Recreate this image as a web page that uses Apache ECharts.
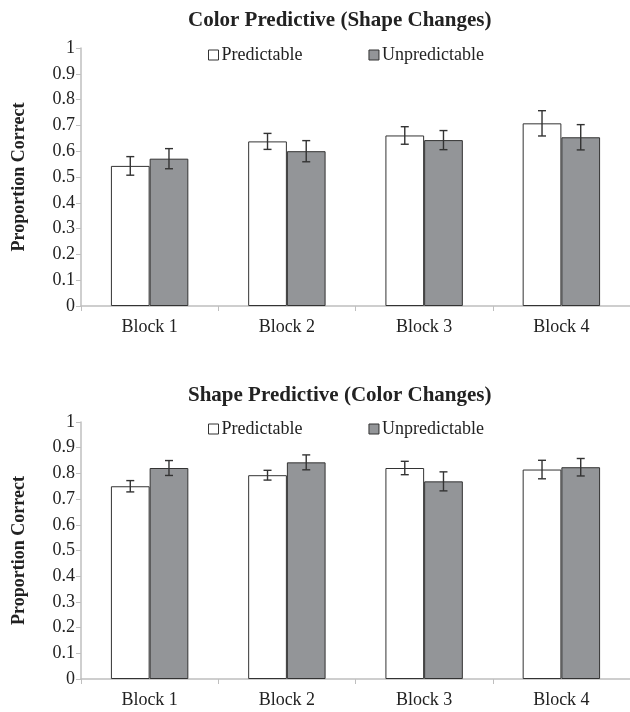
<!DOCTYPE html>
<html>
<head>
<meta charset="utf-8">
<script src="https://cdn.jsdelivr.net/npm/echarts@6/dist/echarts.min.js"></script>
<style>
  html, body { margin: 0; padding: 0; background: #fff; }
  #main { width: 630px; height: 712px; }
</style>
</head>
<body>
<div id="main"></div>
<script>
// categories
const blocks = ['Block 1', 'Block 2', 'Block 3', 'Block 4'];

// Color Predictive (Shape Changes)
const colorPred = [0.543, 0.638, 0.661, 0.708];
const colorPredErr = [0.036, 0.031, 0.034, 0.049];
const colorUnpred = [0.571, 0.600, 0.643, 0.654];
const colorUnpredErr = [0.039, 0.041, 0.037, 0.049];

// Shape Predictive (Color Changes)
const shapePred = [0.750, 0.793, 0.821, 0.815];
const shapePredErr = [0.022, 0.019, 0.026, 0.036];
const shapeUnpred = [0.821, 0.843, 0.769, 0.824];
const shapeUnpredErr = [0.029, 0.029, 0.037, 0.034];

const titles = ['Color Predictive (Shape Changes)', 'Shape Predictive (Color Changes)'];

const FONT = '"Liberation Serif", "DejaVu Serif", serif';
const AXIS_GREY = '#bfbfbf';
const BAR_GREY = '#939598';
const EDGE = '#333';
const BAR_W = 0.282; // fraction of category band

function errRender(side) {
  return function (params, api) {
    const i = api.value(0), v = api.value(1), e = api.value(2);
    const band = api.size([1, 0])[0];
    const cx = api.coord([i, v])[0] + side * band * BAR_W / 2;
    const yTop = api.coord([i, v + e])[1];
    const yBot = api.coord([i, v - e])[1];
    const st = { stroke: '#333', lineWidth: 1.4 };
    return {
      type: 'group',
      children: [
        { type: 'line', shape: { x1: cx, y1: yTop, x2: cx, y2: yBot }, style: st },
        { type: 'line', shape: { x1: cx - 4, y1: yTop, x2: cx + 4, y2: yTop }, style: st },
        { type: 'line', shape: { x1: cx - 4, y1: yBot, x2: cx + 4, y2: yBot }, style: st }
      ]
    };
  };
}

function toErr(vals, errs) {
  return vals.map((v, i) => [i, v, errs[i]]);
}

const grids = [
  { left: 81, top: 48, width: 552, height: 258 },
  { left: 81, top: 422, width: 552, height: 257 }
];

const xAxes = grids.map((g, k) => ({
  type: 'category',
  gridIndex: k,
  data: blocks,
  axisLine: { show: true, lineStyle: { color: AXIS_GREY, width: 1.5 } },
  axisTick: { show: true, length: 5, lineStyle: { color: AXIS_GREY } },
  axisLabel: { color: '#222', fontSize: 18, fontFamily: FONT, margin: 12 }
}));

const yAxes = grids.map((g, k) => ({
  type: 'value',
  gridIndex: k,
  min: 0, max: 1, interval: 0.1,
  name: 'Proportion Correct',
  nameLocation: 'middle',
  nameGap: 53,
  nameTextStyle: { color: '#222', fontSize: 18, fontWeight: 'bold', fontFamily: FONT },
  splitLine: { show: false },
  axisLine: { show: true, lineStyle: { color: AXIS_GREY, width: 1.5 } },
  axisTick: { show: true, length: 5, lineStyle: { color: AXIS_GREY } },
  axisLabel: { color: '#222', fontSize: 18, fontFamily: FONT, margin: 6 }
}));

const legendItems = [
  { name: 'Predictable', itemStyle: { color: '#fff', borderColor: EDGE, borderWidth: 1 } },
  { name: 'Unpredictable', itemStyle: { color: BAR_GREY, borderColor: EDGE, borderWidth: 1 } }
];

const sets = [
  [colorPred, colorPredErr, colorUnpred, colorUnpredErr],
  [shapePred, shapePredErr, shapeUnpred, shapeUnpredErr]
];

const series = [];
sets.forEach((s, k) => {
  series.push({
    name: 'Predictable', type: 'bar', xAxisIndex: k, yAxisIndex: k,
    barWidth: (BAR_W * 100) + '%', barGap: '0%',
    itemStyle: { color: '#fff', borderColor: EDGE, borderWidth: 1 },
    data: s[0]
  });
  series.push({
    name: 'Unpredictable', type: 'bar', xAxisIndex: k, yAxisIndex: k,
    barWidth: (BAR_W * 100) + '%', barGap: '0%',
    itemStyle: { color: BAR_GREY, borderColor: EDGE, borderWidth: 1 },
    data: s[2]
  });
  series.push({
    type: 'custom', xAxisIndex: k, yAxisIndex: k, z: 5,
    renderItem: errRender(-1), data: toErr(s[0], s[1])
  });
  series.push({
    type: 'custom', xAxisIndex: k, yAxisIndex: k, z: 5,
    renderItem: errRender(1), data: toErr(s[2], s[3])
  });
});

const option = {
  backgroundColor: '#fff',
  animation: false,
  title: [
    { text: titles[0], left: 183, top: 5,
      textStyle: { fontSize: 21, fontWeight: 'bold', color: '#222', fontFamily: FONT } },
    { text: titles[1], left: 183, top: 380,
      textStyle: { fontSize: 21, fontWeight: 'bold', color: '#222', fontFamily: FONT } }
  ],
  legend: [
    { left: 203, top: 41, itemWidth: 10, itemHeight: 10, itemGap: 66, icon: 'rect',
      data: legendItems, selectedMode: false,
      textStyle: { fontSize: 18, color: '#222', fontFamily: FONT, padding: [0, 0, 0, -2] } },
    { left: 203, top: 415, itemWidth: 10, itemHeight: 10, itemGap: 66, icon: 'rect',
      data: legendItems, selectedMode: false,
      textStyle: { fontSize: 18, color: '#222', fontFamily: FONT, padding: [0, 0, 0, -2] } }
  ],
  grid: grids,
  xAxis: xAxes,
  yAxis: yAxes,
  series: series
};

const chart = echarts.init(document.getElementById('main'), null, { renderer: 'canvas' });
chart.setOption(option);
</script>
</body>
</html>
